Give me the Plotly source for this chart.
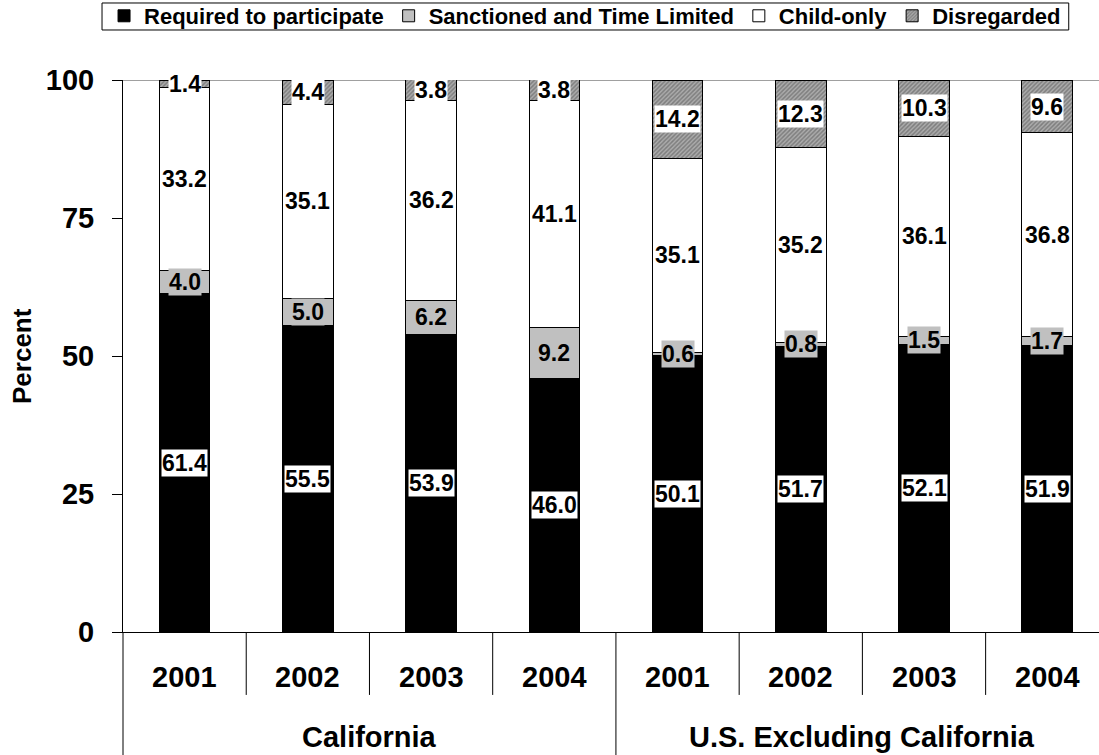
import plotly.graph_objects as go

# Welfare caseload composition, by state group and year (percent)
regions = ["California"] * 4 + ["U.S. Excluding California"] * 4
years = ["2001", "2002", "2003", "2004"] * 2
required = [61.4, 55.5, 53.9, 46.0, 50.1, 51.7, 52.1, 51.9]
sanctioned = [4.0, 5.0, 6.2, 9.2, 0.6, 0.8, 1.5, 1.7]
child_only = [33.2, 35.1, 36.2, 41.1, 35.1, 35.2, 36.1, 36.8]
disregarded = [1.4, 4.4, 3.8, 3.8, 14.2, 12.3, 10.3, 9.6]
y_ticks = [0, 25, 50, 75, 100]

FONT = "Liberation Sans, Arial, sans-serif"
keys = [f"{r} {y}" for r, y in zip(regions, years)]
group_names = ["California", "U.S. Excluding California"]

series = [
    ("Required to participate", required, dict(color="#000000"), "#ffffff"),
    ("Sanctioned and Time Limited", sanctioned, dict(color="#c0c0c0"), "#c0c0c0"),
    ("Child-only", child_only, dict(color="#ffffff"), "#ffffff"),
    ("Disregarded", disregarded,
     dict(color="#a0a0a0",
          pattern=dict(shape="/", fgcolor="#505050", bgcolor="#acacac",
                       size=3, solidity=0.5)),
     "#ffffff"),
]

fig = go.Figure()
annotations = []
base = [0.0] * len(keys)
for name, vals, marker, label_bg in series:
    fig.add_trace(go.Bar(
        x=keys, y=vals, name=name, width=0.41,
        marker=dict(**marker, line=dict(color="#000000", width=1)),
        hoverinfo="name+y",
    ))
    for i, v in enumerate(vals):
        annotations.append(dict(
            x=keys[i], y=base[i] + v / 2, xref="x", yref="y",
            text=f"{v:.1f}", showarrow=False, bgcolor=label_bg, borderpad=0,
            font=dict(family=FONT, size=23, color="#000000", weight="bold"),
        ))
        base[i] += v

# Year labels under each bar
for k, yr in zip(keys, years):
    annotations.append(dict(
        x=k, y=-0.0815, xref="x", yref="paper", text=yr, showarrow=False,
        yanchor="middle",
        font=dict(family=FONT, size=29, color="#000000", weight="bold"),
    ))

# Group labels centred under each block of four years
for g in group_names:
    idx = [i for i, r in enumerate(regions) if r == g]
    annotations.append(dict(
        x=(idx[0] + idx[-1]) / 2, y=-0.19, xref="x", yref="paper", text=g,
        showarrow=False, yanchor="middle",
        font=dict(family=FONT, size=29, color="#000000", weight="bold"),
    ))

# Axis title
annotations.append(dict(
    x=-0.1035, y=0.5, xref="paper", yref="paper", text="Percent",
    textangle=-90, showarrow=False, xanchor="center", yanchor="middle",
    font=dict(family=FONT, size=26, color="#000000", weight="bold"),
))

shapes = []
# Light line along the 100% level
shapes.append(dict(type="line", xref="paper", yref="y", x0=0, x1=1, y0=100, y1=100,
                   line=dict(color="#808080", width=1.5), layer="below"))
# Category dividers below the axis: short between years, long between groups
for i in range(1, len(keys)):
    long_div = regions[i] != regions[i - 1]
    shapes.append(dict(type="line", xref="x", yref="paper", x0=i - 0.5, x1=i - 0.5,
                       y0=0, y1=-0.223 if long_div else -0.114,
                       line=dict(color="#000000", width=1)))
shapes.append(dict(type="line", xref="paper", yref="paper", x0=0, x1=0,
                   y0=0, y1=-0.223, line=dict(color="#000000", width=1)))
# Frame around the legend row
shapes.append(dict(type="rect", xref="paper", yref="paper",
                   x0=-0.0215, x1=0.969, y0=1.0906, y1=1.1395,
                   line=dict(color="#000000", width=1), fillcolor="rgba(0,0,0,0)",
                   layer="above"))

fig.update_layout(
    width=1099, height=755,
    margin=dict(l=123, r=0, t=80, b=123, autoexpand=False),
    paper_bgcolor="#ffffff", plot_bgcolor="#ffffff",
    barmode="stack",
    font=dict(family=FONT, color="#000000", weight="bold"),
    showlegend=True,
    legend=dict(
        orientation="h", traceorder="normal",
        x=0.4734, xanchor="center", y=1.154, yanchor="top",
        borderwidth=0, bgcolor="rgba(0,0,0,0)",
        font=dict(family=FONT, size=22, color="#000000", weight="bold"),
        itemwidth=30,
    ),
    xaxis=dict(
        type="category", range=[-0.5, 7.42],
        showline=True, linecolor="#000000", linewidth=1,
        showticklabels=False, ticks="", showgrid=False, zeroline=False,
        fixedrange=True,
    ),
    yaxis=dict(
        range=[0, 100], tickvals=y_ticks, ticks="outside", ticklen=10,
        tickcolor="#000000", showline=True, linecolor="#000000", linewidth=1,
        showgrid=False, zeroline=False, ticklabelstandoff=12,
        tickfont=dict(family=FONT, size=29, color="#000000", weight="bold"),
        fixedrange=True,
    ),
    annotations=annotations,
    shapes=shapes,
)

fig.write_html("out.html")
